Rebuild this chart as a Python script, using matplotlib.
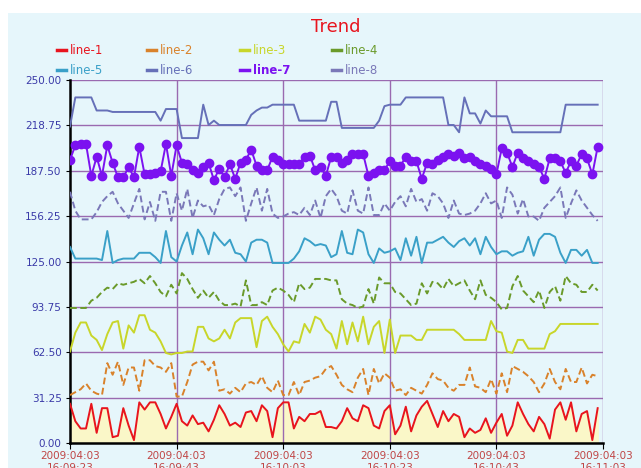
import numpy as np
import matplotlib
matplotlib.use("Agg")
import matplotlib.pyplot as plt
from matplotlib.lines import Line2D
from matplotlib.patches import Rectangle

# seconds since 16:09:23
t = np.arange(100)

line1 = [27, 15, 10, 10, 27, 7, 24, 24, 4, 5, 24, 12, 2, 28, 23, 28, 28, 20, 10, 18,
         27, 15, 12, 19, 13, 14, 8, 16, 26, 20, 12, 14, 11, 21, 22, 15, 26, 22, 4, 24,
         28, 28, 10, 18, 15, 20, 20, 22, 11, 11, 10, 15, 24, 17, 15, 26, 24, 12, 10, 22,
         26, 6, 12, 25, 8, 19, 25, 29, 20, 11, 22, 15, 20, 18, 4, 10, 7, 9, 17, 7,
         14, 20, 5, 12, 28, 20, 13, 8, 18, 13, 3, 23, 28, 16, 28, 8, 20, 22, 2, 24]
line2 = [33, 35, 37, 41, 36, 34, 33, 55, 47, 56, 40, 52, 52, 36, 57, 57, 53, 52, 49, 55,
         32, 32, 42, 54, 56, 56, 50, 56, 36, 37, 34, 38, 35, 41, 42, 40, 46, 38, 35, 43,
         33, 33, 42, 33, 42, 43, 45, 46, 51, 53, 47, 40, 37, 35, 45, 51, 33, 51, 41, 48,
         45, 36, 37, 33, 38, 36, 34, 40, 48, 44, 43, 38, 36, 40, 40, 52, 39, 38, 35, 44,
         34, 48, 35, 53, 51, 49, 46, 42, 35, 41, 51, 42, 37, 51, 42, 42, 52, 41, 47, 46]
line3 = [63, 76, 83, 83, 74, 71, 64, 75, 83, 84, 65, 81, 76, 88, 88, 78, 76, 70, 62, 61,
         62, 62, 63, 63, 80, 80, 72, 70, 72, 78, 72, 83, 86, 86, 86, 66, 84, 87, 80, 75,
         68, 63, 70, 69, 82, 76, 87, 85, 78, 75, 65, 84, 68, 83, 70, 87, 68, 80, 84, 62,
         85, 62, 74, 74, 74, 71, 71, 78, 78, 78, 78, 78, 78, 75, 71, 71, 71, 71, 71, 84,
         77, 76, 63, 62, 71, 71, 65, 65, 65, 65, 75, 77, 82, 82, 82, 82, 82, 82, 82, 82]
line4 = [93, 93, 93, 93, 98, 100, 104, 107, 106, 110, 109, 110, 111, 113, 110, 115, 110, 104, 101, 109,
         103, 117, 113, 106, 100, 105, 100, 104, 98, 95, 95, 96, 94, 112, 95, 95, 97, 95, 105, 107,
         105, 102, 97, 110, 106, 107, 113, 113, 113, 112, 112, 99, 96, 95, 93, 94, 106, 96, 114, 110,
         110, 104, 103, 99, 95, 96, 110, 103, 111, 110, 106, 113, 108, 110, 112, 105, 99, 112, 102, 100,
         97, 92, 93, 108, 115, 105, 101, 97, 105, 93, 104, 108, 98, 115, 110, 109, 104, 104, 109, 105]
line5 = [135, 127, 127, 127, 127, 127, 126, 146, 124, 126, 127, 127, 127, 131, 131, 131, 128, 124, 146, 128,
         125, 136, 145, 130, 147, 141, 130, 145, 140, 136, 140, 131, 130, 125, 138, 140, 140, 138, 124, 124,
         124, 124, 127, 132, 141, 139, 136, 137, 136, 128, 130, 146, 131, 130, 147, 145, 130, 124, 134, 131,
         132, 134, 126, 141, 129, 142, 124, 138, 138, 140, 142, 138, 135, 139, 141, 136, 141, 130, 142, 135,
         130, 132, 132, 129, 131, 132, 142, 129, 140, 144, 144, 142, 131, 124, 133, 133, 129, 133, 124, 124]
line6 = [218, 238, 238, 238, 238, 229, 229, 229, 228, 228, 228, 228, 228, 228, 228, 228, 228, 222, 230, 230,
         230, 210, 210, 210, 210, 233, 219, 222, 219, 219, 219, 219, 219, 219, 226, 229, 231, 231, 233, 233,
         233, 233, 233, 222, 222, 222, 222, 222, 222, 235, 235, 217, 217, 217, 217, 217, 217, 217, 222, 232,
         233, 233, 233, 238, 238, 238, 238, 238, 238, 238, 238, 219, 219, 214, 238, 227, 227, 220, 229, 225,
         225, 225, 225, 214, 214, 214, 214, 214, 214, 214, 214, 214, 214, 233, 233, 233, 233, 233, 233, 233]
line7 = [195, 205, 206, 206, 184, 197, 184, 205, 193, 183, 183, 190, 183, 204, 185, 185, 186, 187, 206, 184,
         205, 193, 192, 188, 186, 190, 193, 181, 189, 183, 192, 182, 193, 195, 202, 191, 188, 188, 197, 195,
         192, 192, 192, 192, 197, 198, 188, 190, 184, 197, 197, 193, 195, 199, 199, 199, 184, 186, 188, 188,
         194, 191, 191, 197, 194, 194, 182, 193, 192, 195, 197, 199, 198, 200, 196, 197, 194, 192, 191, 189,
         185, 203, 200, 190, 200, 196, 194, 192, 190, 182, 196, 196, 194, 186, 194, 191, 199, 196, 185, 204]
line8 = [173, 160, 154, 154, 154, 159, 166, 170, 173, 165, 160, 155, 165, 175, 154, 166, 153, 173, 173, 153,
         172, 160, 175, 155, 167, 163, 164, 157, 168, 175, 176, 170, 176, 153, 165, 176, 160, 175, 158, 155,
         156, 158, 159, 157, 162, 157, 167, 155, 170, 175, 170, 160, 158, 174, 160, 158, 176, 157, 157, 165,
         160, 166, 170, 163, 175, 166, 168, 160, 172, 170, 165, 155, 167, 158, 157, 158, 160, 165, 172, 165,
         167, 155, 176, 171, 158, 168, 156, 156, 153, 162, 166, 170, 176, 155, 165, 174, 167, 162, 157, 153]

names = ["line-1", "line-2", "line-3", "line-4", "line-5", "line-6", "line-7", "line-8"]
series = [line1, line2, line3, line4, line5, line6, line7, line8]
colors = ["#e8141e", "#d9822b", "#c8d62a", "#6a9a2a", "#3aa0c8", "#6670b8", "#7b12f0", "#7a78b8"]
dashed = [False, True, False, True, False, False, False, True]

y_ticks = [0.0, 31.25, 62.5, 93.75, 125.0, 156.25, 187.5, 218.75, 250.0]
x_ticks = [0, 20, 40, 60, 80, 100]
x_labels = ["2009:04:03\n16:09:23", "2009:04:03\n16:09:43", "2009:04:03\n16:10:03",
            "2009:04:03\n16:10:23", "2009:04:03\n16:10:43", "2009:04:03\n16:11:03"]

bg = "#e6f6fb"
fig = plt.figure(figsize=(6.41, 4.68), dpi=100)
fig.patch.set_facecolor("white")
fig.add_artist(Rectangle((8 / 641, 0), 1, (468 - 13) / 468, transform=fig.transFigure,
                         facecolor=bg, edgecolor="none", zorder=0))

ax = fig.add_axes([70 / 641, 25 / 468, 533 / 641, 363 / 468])
ax.set_facecolor(bg)

ax.fill_between(t, 0, line1, color="#faf7c8", zorder=1)
for vals, c, d in zip(series, colors, dashed):
    kw = dict(color=c, lw=1.4, zorder=3)
    if d:
        kw["dashes"] = (3.5, 1.8)
    if c == colors[6]:
        kw.update(marker="o", ms=6, mec=c, mfc=c)
    ax.plot(t, vals, **kw)

ax.set_xlim(0, 100)
ax.set_ylim(0, 250)
ax.set_yticks(y_ticks)
ax.set_yticklabels([f"{v:.2f}" for v in y_ticks])
ax.set_xticks(x_ticks)
ax.set_xticklabels(x_labels)
for v in y_ticks[1:]:
    ax.axhline(v, color="#9a6ab0", lw=1, zorder=2)
for v in x_ticks[1:]:
    ax.axvline(v, color="#9a6ab0", lw=1, zorder=2)
ax.tick_params(axis="y", colors="#3a3aa8", labelsize=7.5, length=3, pad=3)
ax.tick_params(axis="x", colors="#c04545", labelsize=7.5, length=4, pad=2)
ax.tick_params(axis="both", color="black")
for s in ["top", "right"]:
    ax.spines[s].set_visible(False)
ax.spines["left"].set_linewidth(1.8)
ax.spines["bottom"].set_linewidth(1.8)

fig.text(336 / 641, 1 - 27 / 468, "Trend", color="#e8141e", fontsize=13,
         ha="center", va="center")

# legend, two rows of four
leg_x = [57, 147, 240, 332]
leg_y = [50, 70]
for i, (n, c) in enumerate(zip(names, colors)):
    x0 = leg_x[i % 4] / 641
    y0 = 1 - leg_y[i // 4] / 468
    fig.add_artist(Line2D([x0, x0 + 9 / 641], [y0, y0], color=c, lw=2.5,
                          transform=fig.transFigure))
    fig.text(x0 + 13 / 641, y0, n, color=c, fontsize=8.5, va="center", ha="left",
             fontweight="bold" if i == 6 else "normal")

fig.savefig("out.png", dpi=100)
